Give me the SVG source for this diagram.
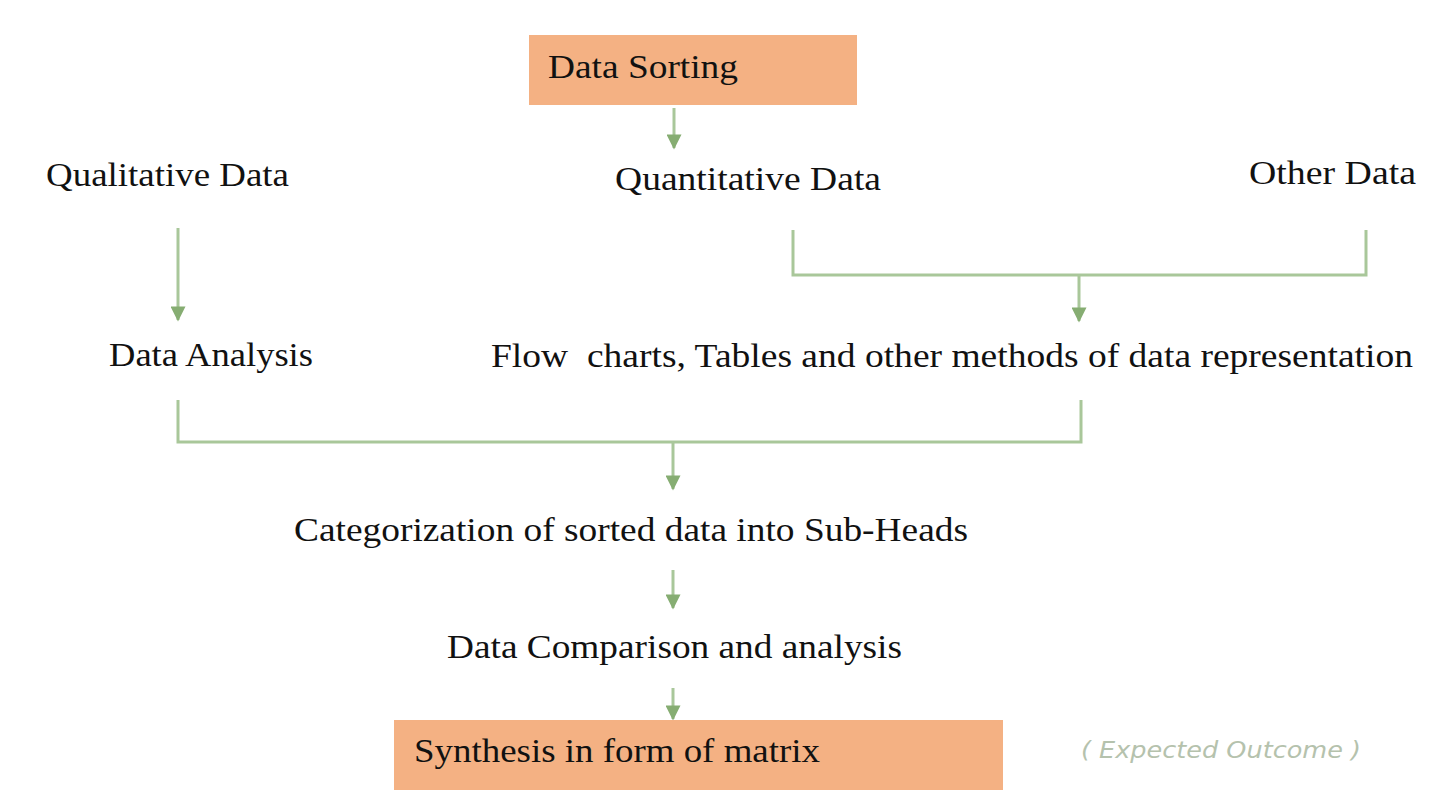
<svg xmlns="http://www.w3.org/2000/svg" width="1430" height="796" viewBox="0 0 1430 796">
  <defs>
    <marker id="arrow" viewBox="0 0 10 10" refX="9" refY="5" markerWidth="6" markerHeight="5" markerUnits="strokeWidth" orient="auto">
      <path d="M0,0 L10,5 L0,10 z" fill="#86ad72"/>
    </marker>
    <style>
      .label { font-family: "Liberation Serif", "DejaVu Serif", serif; font-size: 34px; fill: #111111; }
      .box { fill: #f4b183; }
      .wire { fill: none; stroke: #a9c79a; stroke-width: 3; }
      .arr { fill: none; stroke: #a9c79a; stroke-width: 3; marker-end: url(#arrow); }
      .note { font-family: "DejaVu Sans", "Liberation Sans", sans-serif; font-size: 23px; font-style: italic; fill: #b5c2ad; }
    </style>
  </defs>

  <rect width="1430" height="796" fill="#ffffff"/>

  <!-- connectors -->
  <g id="connectors">
    <line class="arr" x1="674" y1="108" x2="674" y2="148"/>
    <line class="arr" x1="178" y1="228" x2="178" y2="320"/>
    <path class="wire" d="M793,230 V275 H1366 V230"/>
    <line class="arr" x1="1079" y1="275" x2="1079" y2="321"/>
    <path class="wire" d="M178,400 V442 H1081 V400"/>
    <line class="arr" x1="673" y1="442" x2="673" y2="489"/>
    <line class="arr" x1="673" y1="570" x2="673" y2="608"/>
    <line class="arr" x1="673" y1="688" x2="673" y2="719"/>
  </g>

  <g id="data-sorting">
    <rect class="box" x="529" y="35" width="328" height="70"/>
    <text class="label" x="548" y="78" textLength="190" lengthAdjust="spacingAndGlyphs">Data Sorting</text>
  </g>

  <g id="qualitative-data">
    <text class="label" x="46" y="186" textLength="243" lengthAdjust="spacingAndGlyphs">Qualitative Data</text>
  </g>

  <g id="quantitative-data">
    <text class="label" x="615" y="190" textLength="266" lengthAdjust="spacingAndGlyphs">Quantitative Data</text>
  </g>

  <g id="other-data">
    <text class="label" x="1249" y="184" textLength="167" lengthAdjust="spacingAndGlyphs">Other Data</text>
  </g>

  <g id="data-analysis">
    <text class="label" x="109" y="366" textLength="204" lengthAdjust="spacingAndGlyphs">Data Analysis</text>
  </g>

  <g id="representation">
    <text class="label" x="491" y="367" textLength="922" lengthAdjust="spacingAndGlyphs" xml:space="preserve">Flow  charts, Tables and other methods of data representation</text>
  </g>

  <g id="categorization">
    <text class="label" x="294" y="541" textLength="674" lengthAdjust="spacingAndGlyphs">Categorization of sorted data into Sub-Heads</text>
  </g>

  <g id="comparison">
    <text class="label" x="447" y="658" textLength="455" lengthAdjust="spacingAndGlyphs">Data Comparison and analysis</text>
  </g>

  <g id="synthesis">
    <rect class="box" x="394" y="720" width="609" height="70"/>
    <text class="label" x="414" y="762" textLength="406" lengthAdjust="spacingAndGlyphs">Synthesis in form of matrix</text>
  </g>

  <g id="expected-outcome">
    <text class="note" x="1081" y="758" textLength="280" lengthAdjust="spacingAndGlyphs">( Expected Outcome )</text>
  </g>
</svg>
